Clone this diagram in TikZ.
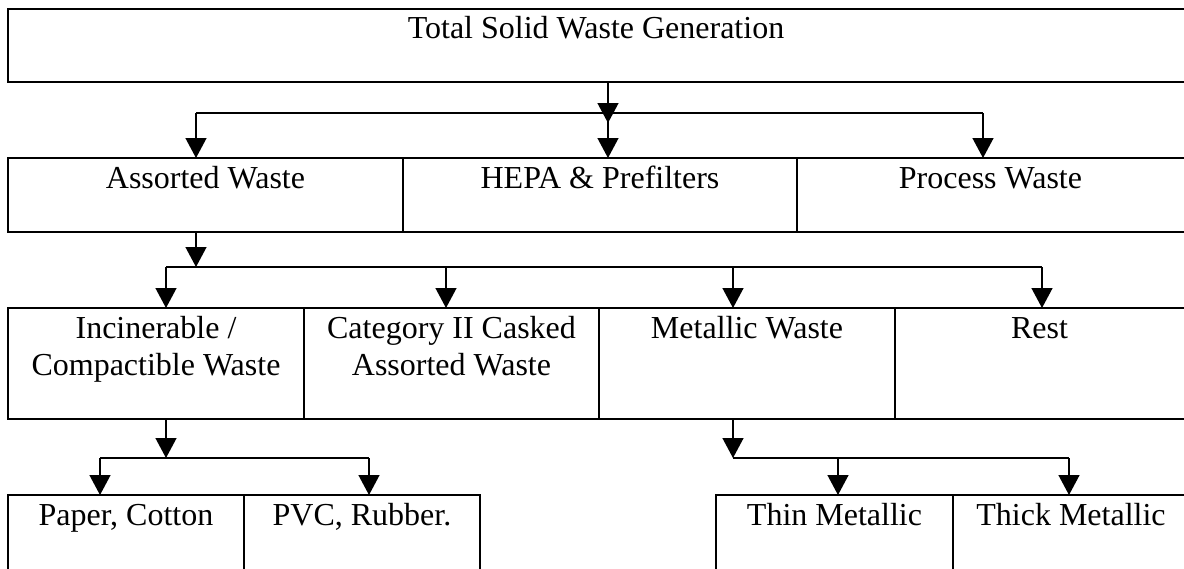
\documentclass[tikz,border=0pt]{standalone}
\usepackage{fontspec}
\setmainfont{Liberation Serif}
\usetikzlibrary{arrows.meta}
\begin{document}
\begin{tikzpicture}[x=1pt,y=-1pt,
  box/.style={draw, line width=2.1pt, rectangle, inner sep=0pt, outer sep=0pt, anchor=north west},
  lbl/.style={font=\fontsize{32}{37}\selectfont, inner sep=0pt, anchor=base},
  conn/.style={line width=1.4pt},
  arr/.style={line width=1.4pt, -{Triangle[width=21pt,length=20pt]}}]
\useasboundingbox (0,0) rectangle (1184,568);
% boxes
\node[box, minimum width=1179pt, minimum height=73pt] (tsw) at (8,9) {};
\node[box, minimum width=395pt, minimum height=74pt] (aw) at (8,158) {};
\node[box, minimum width=394pt, minimum height=74pt] (hepa) at (403,158) {};
\node[box, minimum width=390pt, minimum height=74pt] (pw) at (797,158) {};
\node[box, minimum width=296pt, minimum height=111pt] (icw) at (8,308) {};
\node[box, minimum width=295pt, minimum height=111pt] (cat) at (304,308) {};
\node[box, minimum width=296pt, minimum height=111pt] (mw) at (599,308) {};
\node[box, minimum width=292pt, minimum height=111pt] (rest) at (895,308) {};
\node[box, minimum width=236pt, minimum height=90pt] (pc) at (8,495) {};
\node[box, minimum width=236pt, minimum height=90pt] (pvc) at (244,495) {};
\node[box, minimum width=237pt, minimum height=90pt] (thin) at (716,495) {};
\node[box, minimum width=234pt, minimum height=90pt] (thick) at (953,495) {};
% labels
\node[lbl] at ([xshift=-1.5pt,yshift=-29pt]tsw.north) {Total Solid Waste Generation};
\node[lbl] at ([yshift=-30pt]aw.north) {Assorted Waste};
\node[lbl] at ([yshift=-30pt]hepa.north) {HEPA \& Prefilters};
\node[lbl] at ([xshift=-1.5pt,yshift=-30pt]pw.north) {Process Waste};
\node[lbl] at ([yshift=-30pt]icw.north) {\begin{tabular}[t]{@{}c@{}}Incinerable /\\Compactible Waste\end{tabular}};
\node[lbl] at ([yshift=-30pt]cat.north) {\begin{tabular}[t]{@{}c@{}}Category II Casked\\Assorted Waste\end{tabular}};
\node[lbl] at ([yshift=-30pt]mw.north) {Metallic Waste};
\node[lbl] at ([xshift=-1.5pt,yshift=-30pt]rest.north) {Rest};
\node[lbl] at ([yshift=-30pt]pc.north) {Paper, Cotton};
\node[lbl] at ([yshift=-30pt]pvc.north) {PVC, Rubber.};
\node[lbl] at ([yshift=-30pt]thin.north) {Thin Metallic};
\node[lbl] at ([xshift=1pt,yshift=-30pt]thick.north) {Thick Metallic};
% level 1 connectors
\coordinate (t1) at (608,123);
\coordinate (h1l) at (196,113);
\coordinate (h1m) at (608,113);
\coordinate (h1r) at (983,113);
\draw[conn] (h1l) -- (h1r);
\draw[arr] (tsw.south -| t1) -- (t1);
\draw[arr] (h1l) -- (h1l |- aw.north);
\draw[arr] (h1m) -- (h1m |- hepa.north);
\draw[arr] (h1r) -- (h1r |- pw.north);
% level 2 connectors
\coordinate (j2) at (196,267);
\coordinate (h2a) at (166,267);
\coordinate (h2b) at (446,267);
\coordinate (h2c) at (733,267);
\coordinate (h2d) at (1042,267);
\draw[conn] (h2a) -- (h2d);
\draw[arr] (aw.south -| j2) -- (j2);
\draw[arr] (h2a) -- (h2a |- icw.north);
\draw[arr] (h2b) -- (h2b |- cat.north);
\draw[arr] (h2c) -- (h2c |- mw.north);
\draw[arr] (h2d) -- (h2d |- rest.north);
% level 3 connectors (left)
\coordinate (j3) at (166,458);
\coordinate (h3a) at (100,458);
\coordinate (h3b) at (369,458);
\draw[conn] (h3a) -- (h3b);
\draw[arr] (icw.south -| j3) -- (j3);
\draw[arr] (h3a) -- (h3a |- pc.north);
\draw[arr] (h3b) -- (h3b |- pvc.north);
% level 3 connectors (right)
\coordinate (j4) at (733,458);
\coordinate (h4a) at (838,458);
\coordinate (h4b) at (1069,458);
\draw[conn] (j4) -- (h4b);
\draw[arr] (mw.south -| j4) -- (j4);
\draw[arr] (h4a) -- (h4a |- thin.north);
\draw[arr] (h4b) -- (h4b |- thick.north);
\end{tikzpicture}
\end{document}
